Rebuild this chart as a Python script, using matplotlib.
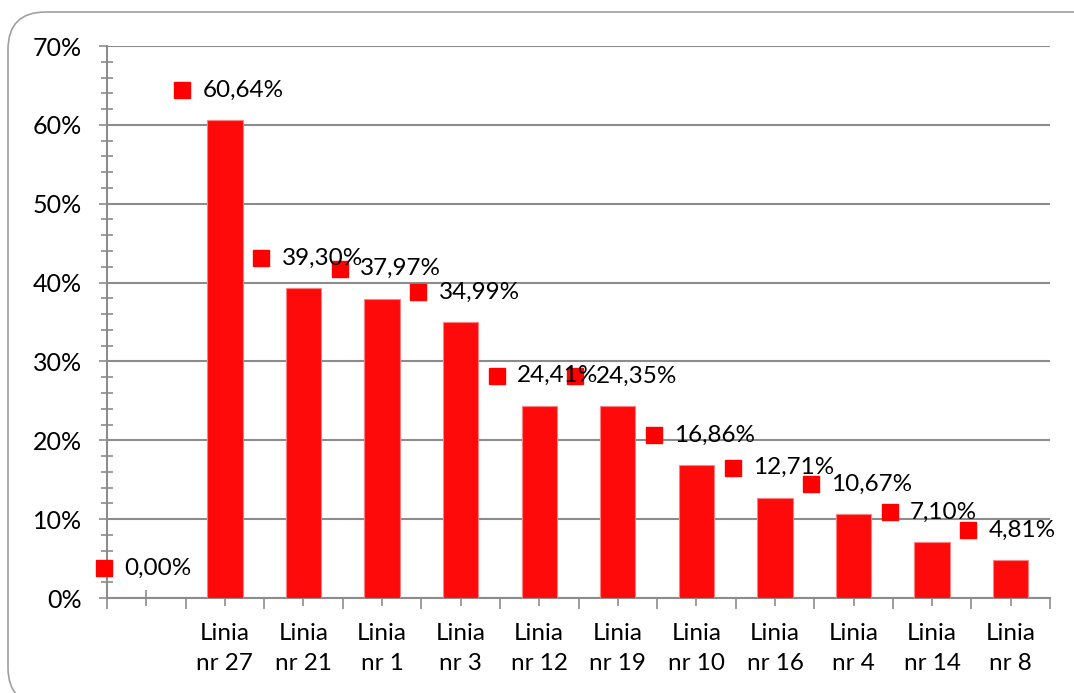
import numpy as np
import matplotlib
matplotlib.use('Agg')
import matplotlib.pyplot as plt
from matplotlib.patches import FancyBboxPatch
from matplotlib.ticker import MultipleLocator, FuncFormatter

categories = ['', 'Linia\nnr 27', 'Linia\nnr 21', 'Linia\nnr 1', 'Linia\nnr 3', 'Linia\nnr 12',
              'Linia\nnr 19', 'Linia\nnr 10', 'Linia\nnr 16', 'Linia\nnr 4', 'Linia\nnr 14', 'Linia\nnr 8']
values = [0.00, 60.64, 39.30, 37.97, 34.99, 24.41, 24.35, 16.86, 12.71, 10.67, 7.10, 4.81]
value_labels = ['0,00%', '60,64%', '39,30%', '37,97%', '34,99%', '24,41%',
                '24,35%', '16,86%', '12,71%', '10,67%', '7,10%', '4,81%']

plt.rcParams['font.family'] = ['Lato', 'DejaVu Sans']

grey = '#8c8c8c'
red = '#ff0a0a'

W, H = 1074, 693
fig = plt.figure(figsize=(W / 100, H / 100), dpi=100)
ax = fig.add_axes([107 / W, 1 - 598 / H, (1050 - 107) / W, (598 - 46) / H])

# rounded outer frame (runs off the right and bottom edges)
frame = FancyBboxPatch((8 / W, -12 / H), 1110 / W, 693 / H,
                       boxstyle='round,pad=0,rounding_size=0.035',
                       transform=fig.transFigure, facecolor='none',
                       edgecolor='#a0a0a0', linewidth=1.2, zorder=0,
                       mutation_aspect=W / H)
fig.patches.append(frame)

x = np.arange(len(categories))
ax.bar(x[1:], values[1:], width=0.45, color=red, edgecolor='#ff8080', linewidth=0.8, zorder=3)

ax.set_xlim(-0.5, len(categories) - 0.5)
ax.set_ylim(0, 70)

ax.yaxis.set_major_locator(MultipleLocator(10))
ax.yaxis.set_minor_locator(MultipleLocator(2))
ax.yaxis.set_major_formatter(FuncFormatter(lambda v, p: '%d%%' % v))
ax.grid(axis='y', which='major', color=grey, linewidth=1.5, zorder=1)
ax.set_axisbelow(True)

# x ticks: outward at category edges, crossing at centers
ax.set_xticks(np.arange(-0.5, len(categories), 1.0))
ax.set_xticklabels([])
ax.set_xticks(x, minor=True)
ax.set_xticklabels(categories, minor=True, fontsize=17.5, linespacing=1.55)
ax.tick_params(axis='x', which='major', direction='out', length=8, width=1.2, color=grey)
ax.tick_params(axis='x', which='minor', direction='inout', length=12, width=1.2, color=grey, pad=12)
ax.tick_params(axis='y', which='major', direction='out', length=6, width=1.2, color=grey,
               labelsize=18, pad=12)
ax.tick_params(axis='y', which='minor', direction='inout', length=8, width=1.2, color=grey)

for side in ['top', 'right']:
    ax.spines[side].set_visible(False)
for side in ['left', 'bottom']:
    ax.spines[side].set_color(grey)
    ax.spines[side].set_linewidth(1.5)

# data labels with legend key
for i, (v, lab) in enumerate(zip(values, value_labels)):
    y = v + 3.8
    ax.plot(i - 0.54, y, marker='s', markersize=11, color='#ff0000', linestyle='none',
            zorder=5, clip_on=False)
    ax.text(i - 0.28, y, lab, fontsize=17.5, va='center', ha='left', zorder=6, clip_on=False)

fig.savefig('out.png', dpi=100)
